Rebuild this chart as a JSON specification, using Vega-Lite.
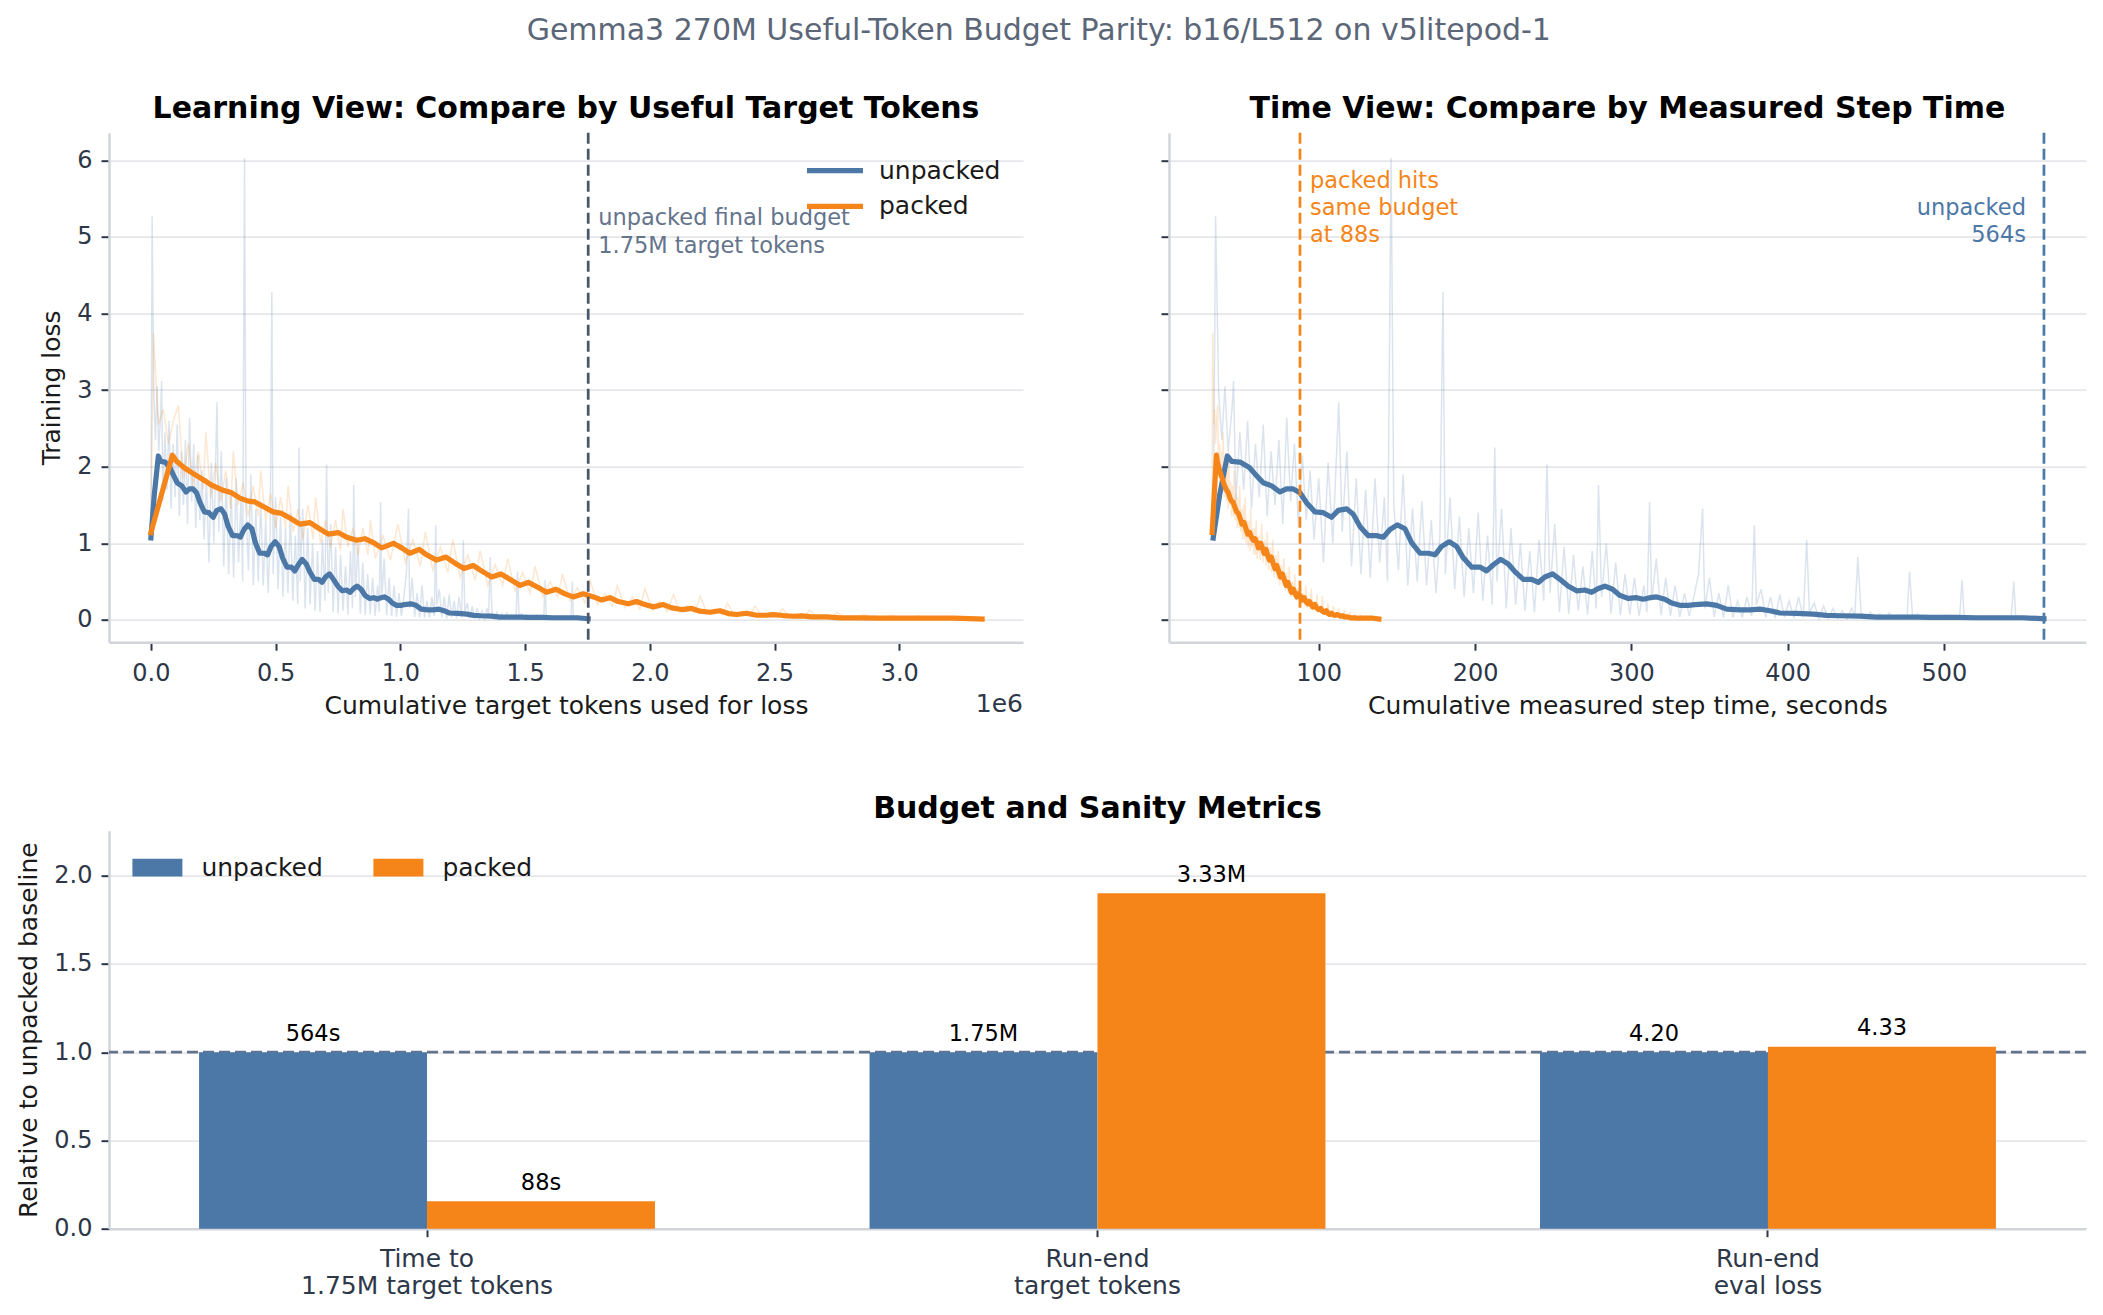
{
  "$schema": "https://vega.github.io/schema/vega-lite/v6.json",
  "autosize": {"type": "pad"},
  "padding": {"left": 16, "top": 15.7, "right": 10, "bottom": 5},
  "background": "white",
  "title": {
    "text": "Gemma3 270M Useful-Token Budget Parity: b16/L512 on v5litepod-1",
    "fontSize": 30, "fontWeight": "normal", "color": "#5b6678",
    "baseline": "alphabetic", "offset": 24.5, "dx": -13, "anchor": "middle"
  },
  "bounds": "full",
  "spacing": 74,
  "datasets": {
    "smooth": [
      {"run": "unpacked", "tok": 0, "sec": 32.5, "loss": 1.07},
      {"run": "unpacked", "tok": 0.0132, "sec": 36.5, "loss": 1.62},
      {"run": "unpacked", "tok": 0.0297, "sec": 41.5, "loss": 2.14},
      {"run": "unpacked", "tok": 0.0389, "sec": 44.3, "loss": 2.07},
      {"run": "unpacked", "tok": 0.0564, "sec": 49.6, "loss": 2.06},
      {"run": "unpacked", "tok": 0.0762, "sec": 55.6, "loss": 1.99},
      {"run": "unpacked", "tok": 0.0917, "sec": 60.3, "loss": 1.88},
      {"run": "unpacked", "tok": 0.1055, "sec": 64.5, "loss": 1.79},
      {"run": "unpacked", "tok": 0.1234, "sec": 69.9, "loss": 1.75},
      {"run": "unpacked", "tok": 0.1408, "sec": 75.2, "loss": 1.67},
      {"run": "unpacked", "tok": 0.1547, "sec": 79.4, "loss": 1.71},
      {"run": "unpacked", "tok": 0.1689, "sec": 83.7, "loss": 1.71},
      {"run": "unpacked", "tok": 0.1830, "sec": 88.0, "loss": 1.66},
      {"run": "unpacked", "tok": 0.1969, "sec": 92.2, "loss": 1.53},
      {"run": "unpacked", "tok": 0.2147, "sec": 97.6, "loss": 1.41},
      {"run": "unpacked", "tok": 0.2322, "sec": 102.9, "loss": 1.40},
      {"run": "unpacked", "tok": 0.2497, "sec": 108.2, "loss": 1.34},
      {"run": "unpacked", "tok": 0.2639, "sec": 112.5, "loss": 1.43},
      {"run": "unpacked", "tok": 0.2813, "sec": 117.8, "loss": 1.45},
      {"run": "unpacked", "tok": 0.2955, "sec": 122.1, "loss": 1.38},
      {"run": "unpacked", "tok": 0.3097, "sec": 126.4, "loss": 1.22},
      {"run": "unpacked", "tok": 0.3272, "sec": 131.7, "loss": 1.10},
      {"run": "unpacked", "tok": 0.3447, "sec": 137.0, "loss": 1.10},
      {"run": "unpacked", "tok": 0.3588, "sec": 141.3, "loss": 1.08},
      {"run": "unpacked", "tok": 0.3730, "sec": 145.6, "loss": 1.18},
      {"run": "unpacked", "tok": 0.3885, "sec": 150.3, "loss": 1.24},
      {"run": "unpacked", "tok": 0.4047, "sec": 155.2, "loss": 1.19},
      {"run": "unpacked", "tok": 0.4185, "sec": 159.4, "loss": 1.01},
      {"run": "unpacked", "tok": 0.4363, "sec": 164.8, "loss": 0.87},
      {"run": "unpacked", "tok": 0.4538, "sec": 170.1, "loss": 0.87},
      {"run": "unpacked", "tok": 0.4680, "sec": 174.4, "loss": 0.85},
      {"run": "unpacked", "tok": 0.4819, "sec": 178.6, "loss": 0.96},
      {"run": "unpacked", "tok": 0.4980, "sec": 183.5, "loss": 1.02},
      {"run": "unpacked", "tok": 0.5135, "sec": 188.2, "loss": 0.96},
      {"run": "unpacked", "tok": 0.5277, "sec": 192.5, "loss": 0.81},
      {"run": "unpacked", "tok": 0.5452, "sec": 197.8, "loss": 0.69},
      {"run": "unpacked", "tok": 0.5627, "sec": 203.1, "loss": 0.69},
      {"run": "unpacked", "tok": 0.5769, "sec": 207.4, "loss": 0.64},
      {"run": "unpacked", "tok": 0.5910, "sec": 211.7, "loss": 0.72},
      {"run": "unpacked", "tok": 0.6065, "sec": 216.4, "loss": 0.79},
      {"run": "unpacked", "tok": 0.6227, "sec": 221.3, "loss": 0.73},
      {"run": "unpacked", "tok": 0.6366, "sec": 225.5, "loss": 0.63},
      {"run": "unpacked", "tok": 0.6544, "sec": 230.9, "loss": 0.53},
      {"run": "unpacked", "tok": 0.6718, "sec": 236.2, "loss": 0.53},
      {"run": "unpacked", "tok": 0.6860, "sec": 240.5, "loss": 0.49},
      {"run": "unpacked", "tok": 0.6999, "sec": 244.7, "loss": 0.56},
      {"run": "unpacked", "tok": 0.7160, "sec": 249.6, "loss": 0.60},
      {"run": "unpacked", "tok": 0.7315, "sec": 254.3, "loss": 0.53},
      {"run": "unpacked", "tok": 0.7494, "sec": 259.7, "loss": 0.44},
      {"run": "unpacked", "tok": 0.7668, "sec": 265.0, "loss": 0.38},
      {"run": "unpacked", "tok": 0.7843, "sec": 270.3, "loss": 0.39},
      {"run": "unpacked", "tok": 0.7985, "sec": 274.6, "loss": 0.36},
      {"run": "unpacked", "tok": 0.8127, "sec": 278.9, "loss": 0.41},
      {"run": "unpacked", "tok": 0.8265, "sec": 283.1, "loss": 0.44},
      {"run": "unpacked", "tok": 0.8427, "sec": 288.0, "loss": 0.40},
      {"run": "unpacked", "tok": 0.8582, "sec": 292.7, "loss": 0.32},
      {"run": "unpacked", "tok": 0.8760, "sec": 298.1, "loss": 0.28},
      {"run": "unpacked", "tok": 0.8935, "sec": 303.4, "loss": 0.29},
      {"run": "unpacked", "tok": 0.9073, "sec": 307.6, "loss": 0.27},
      {"run": "unpacked", "tok": 0.9215, "sec": 311.9, "loss": 0.29},
      {"run": "unpacked", "tok": 0.9357, "sec": 316.2, "loss": 0.30},
      {"run": "unpacked", "tok": 0.9532, "sec": 321.5, "loss": 0.27},
      {"run": "unpacked", "tok": 0.9674, "sec": 325.8, "loss": 0.22},
      {"run": "unpacked", "tok": 0.9848, "sec": 331.1, "loss": 0.19},
      {"run": "unpacked", "tok": 1.0023, "sec": 336.4, "loss": 0.19},
      {"run": "unpacked", "tok": 1.0165, "sec": 340.7, "loss": 0.20},
      {"run": "unpacked", "tok": 1.0412, "sec": 348.2, "loss": 0.21},
      {"run": "unpacked", "tok": 1.0624, "sec": 354.6, "loss": 0.19},
      {"run": "unpacked", "tok": 1.0835, "sec": 361.0, "loss": 0.14},
      {"run": "unpacked", "tok": 1.1115, "sec": 369.5, "loss": 0.13},
      {"run": "unpacked", "tok": 1.1326, "sec": 375.9, "loss": 0.13},
      {"run": "unpacked", "tok": 1.1537, "sec": 382.3, "loss": 0.14},
      {"run": "unpacked", "tok": 1.1748, "sec": 388.7, "loss": 0.12},
      {"run": "unpacked", "tok": 1.1959, "sec": 395.1, "loss": 0.09},
      {"run": "unpacked", "tok": 1.2309, "sec": 405.7, "loss": 0.085},
      {"run": "unpacked", "tok": 1.2662, "sec": 416.4, "loss": 0.076},
      {"run": "unpacked", "tok": 1.2942, "sec": 424.9, "loss": 0.059},
      {"run": "unpacked", "tok": 1.3226, "sec": 433.5, "loss": 0.054},
      {"run": "unpacked", "tok": 1.3648, "sec": 446.3, "loss": 0.05},
      {"run": "unpacked", "tok": 1.3998, "sec": 456.9, "loss": 0.037},
      {"run": "unpacked", "tok": 1.4420, "sec": 469.7, "loss": 0.037},
      {"run": "unpacked", "tok": 1.4842, "sec": 482.5, "loss": 0.037},
      {"run": "unpacked", "tok": 1.5126, "sec": 491.1, "loss": 0.033},
      {"run": "unpacked", "tok": 1.5686, "sec": 508.1, "loss": 0.033},
      {"run": "unpacked", "tok": 1.6109, "sec": 520.9, "loss": 0.028},
      {"run": "unpacked", "tok": 1.6673, "sec": 538.0, "loss": 0.028},
      {"run": "unpacked", "tok": 1.7095, "sec": 550.8, "loss": 0.028},
      {"run": "unpacked", "tok": 1.7530, "sec": 564.0, "loss": 0.015},
      {"run": "packed", "tok": 0, "sec": 31.80, "loss": 1.14},
      {"run": "packed", "tok": 0.086, "sec": 34.55, "loss": 2.15},
      {"run": "packed", "tok": 0.103, "sec": 35.10, "loss": 2.07},
      {"run": "packed", "tok": 0.136, "sec": 36.15, "loss": 1.98},
      {"run": "packed", "tok": 0.170, "sec": 37.24, "loss": 1.91},
      {"run": "packed", "tok": 0.210, "sec": 38.52, "loss": 1.83},
      {"run": "packed", "tok": 0.243, "sec": 39.58, "loss": 1.76},
      {"run": "packed", "tok": 0.283, "sec": 40.86, "loss": 1.70},
      {"run": "packed", "tok": 0.323, "sec": 42.14, "loss": 1.66},
      {"run": "packed", "tok": 0.357, "sec": 43.23, "loss": 1.59},
      {"run": "packed", "tok": 0.390, "sec": 44.29, "loss": 1.55},
      {"run": "packed", "tok": 0.417, "sec": 45.15, "loss": 1.54},
      {"run": "packed", "tok": 0.450, "sec": 46.21, "loss": 1.48},
      {"run": "packed", "tok": 0.490, "sec": 47.49, "loss": 1.41},
      {"run": "packed", "tok": 0.524, "sec": 48.58, "loss": 1.39},
      {"run": "packed", "tok": 0.557, "sec": 49.64, "loss": 1.33},
      {"run": "packed", "tok": 0.597, "sec": 50.92, "loss": 1.25},
      {"run": "packed", "tok": 0.638, "sec": 52.23, "loss": 1.27},
      {"run": "packed", "tok": 0.671, "sec": 53.29, "loss": 1.20},
      {"run": "packed", "tok": 0.711, "sec": 54.57, "loss": 1.12},
      {"run": "packed", "tok": 0.751, "sec": 55.85, "loss": 1.14},
      {"run": "packed", "tok": 0.785, "sec": 56.94, "loss": 1.08},
      {"run": "packed", "tok": 0.825, "sec": 58.22, "loss": 1.04},
      {"run": "packed", "tok": 0.858, "sec": 59.27, "loss": 1.06},
      {"run": "packed", "tok": 0.891, "sec": 60.33, "loss": 1.01},
      {"run": "packed", "tok": 0.925, "sec": 61.42, "loss": 0.94},
      {"run": "packed", "tok": 0.972, "sec": 62.92, "loss": 1.00},
      {"run": "packed", "tok": 1.005, "sec": 63.98, "loss": 0.94},
      {"run": "packed", "tok": 1.038, "sec": 65.04, "loss": 0.87},
      {"run": "packed", "tok": 1.076, "sec": 66.25, "loss": 0.92},
      {"run": "packed", "tok": 1.105, "sec": 67.18, "loss": 0.85},
      {"run": "packed", "tok": 1.145, "sec": 68.46, "loss": 0.78},
      {"run": "packed", "tok": 1.183, "sec": 69.68, "loss": 0.82},
      {"run": "packed", "tok": 1.219, "sec": 70.83, "loss": 0.74},
      {"run": "packed", "tok": 1.255, "sec": 71.98, "loss": 0.67},
      {"run": "packed", "tok": 1.292, "sec": 73.17, "loss": 0.71},
      {"run": "packed", "tok": 1.330, "sec": 74.39, "loss": 0.63},
      {"run": "packed", "tok": 1.366, "sec": 75.54, "loss": 0.56},
      {"run": "packed", "tok": 1.403, "sec": 76.72, "loss": 0.60},
      {"run": "packed", "tok": 1.439, "sec": 77.88, "loss": 0.53},
      {"run": "packed", "tok": 1.480, "sec": 79.19, "loss": 0.45},
      {"run": "packed", "tok": 1.513, "sec": 80.25, "loss": 0.49},
      {"run": "packed", "tok": 1.549, "sec": 81.40, "loss": 0.43},
      {"run": "packed", "tok": 1.586, "sec": 82.58, "loss": 0.36},
      {"run": "packed", "tok": 1.624, "sec": 83.80, "loss": 0.40},
      {"run": "packed", "tok": 1.660, "sec": 84.95, "loss": 0.34},
      {"run": "packed", "tok": 1.693, "sec": 86.01, "loss": 0.30},
      {"run": "packed", "tok": 1.733, "sec": 87.29, "loss": 0.34},
      {"run": "packed", "tok": 1.774, "sec": 88.60, "loss": 0.30},
      {"run": "packed", "tok": 1.807, "sec": 89.66, "loss": 0.26},
      {"run": "packed", "tok": 1.840, "sec": 90.72, "loss": 0.29},
      {"run": "packed", "tok": 1.874, "sec": 91.81, "loss": 0.24},
      {"run": "packed", "tok": 1.914, "sec": 93.09, "loss": 0.21},
      {"run": "packed", "tok": 1.947, "sec": 94.14, "loss": 0.24},
      {"run": "packed", "tok": 1.980, "sec": 95.20, "loss": 0.20},
      {"run": "packed", "tok": 2.014, "sec": 96.29, "loss": 0.17},
      {"run": "packed", "tok": 2.054, "sec": 97.57, "loss": 0.20},
      {"run": "packed", "tok": 2.088, "sec": 98.66, "loss": 0.157},
      {"run": "packed", "tok": 2.128, "sec": 99.94, "loss": 0.135},
      {"run": "packed", "tok": 2.168, "sec": 101.22, "loss": 0.15},
      {"run": "packed", "tok": 2.201, "sec": 102.28, "loss": 0.114},
      {"run": "packed", "tok": 2.241, "sec": 103.56, "loss": 0.10},
      {"run": "packed", "tok": 2.281, "sec": 104.84, "loss": 0.12},
      {"run": "packed", "tok": 2.315, "sec": 105.93, "loss": 0.083},
      {"run": "packed", "tok": 2.348, "sec": 106.98, "loss": 0.07},
      {"run": "packed", "tok": 2.388, "sec": 108.26, "loss": 0.087},
      {"run": "packed", "tok": 2.428, "sec": 109.54, "loss": 0.061},
      {"run": "packed", "tok": 2.468, "sec": 110.82, "loss": 0.061},
      {"run": "packed", "tok": 2.495, "sec": 111.69, "loss": 0.07},
      {"run": "packed", "tok": 2.535, "sec": 112.97, "loss": 0.057},
      {"run": "packed", "tok": 2.575, "sec": 114.25, "loss": 0.048},
      {"run": "packed", "tok": 2.609, "sec": 115.34, "loss": 0.053},
      {"run": "packed", "tok": 2.649, "sec": 116.62, "loss": 0.04},
      {"run": "packed", "tok": 2.709, "sec": 118.54, "loss": 0.04},
      {"run": "packed", "tok": 2.763, "sec": 120.27, "loss": 0.027},
      {"run": "packed", "tok": 2.843, "sec": 122.83, "loss": 0.027},
      {"run": "packed", "tok": 2.923, "sec": 125.39, "loss": 0.022},
      {"run": "packed", "tok": 3.017, "sec": 128.40, "loss": 0.022},
      {"run": "packed", "tok": 3.111, "sec": 131.42, "loss": 0.022},
      {"run": "packed", "tok": 3.217, "sec": 134.81, "loss": 0.022},
      {"run": "packed", "tok": 3.332, "sec": 138.49, "loss": 0.012}
    ],
    "raw": [
      {"run": "unpacked", "tok": 0, "sec": 32.5, "loss": 1.07},
      {"run": "unpacked", "tok": 0.0049, "sec": 34, "loss": 5.27},
      {"run": "unpacked", "tok": 0.0115, "sec": 36, "loss": 2.95},
      {"run": "unpacked", "tok": 0.0181, "sec": 38, "loss": 2.35},
      {"run": "unpacked", "tok": 0.0247, "sec": 40, "loss": 3.05},
      {"run": "unpacked", "tok": 0.0313, "sec": 42, "loss": 2.2},
      {"run": "unpacked", "tok": 0.0396, "sec": 44.5, "loss": 2.75},
      {"run": "unpacked", "tok": 0.0429, "sec": 45.5, "loss": 3.12},
      {"run": "unpacked", "tok": 0.0478, "sec": 47, "loss": 1.55},
      {"run": "unpacked", "tok": 0.0561, "sec": 49.5, "loss": 2.45},
      {"run": "unpacked", "tok": 0.0643, "sec": 52, "loss": 1.7},
      {"run": "unpacked", "tok": 0.0726, "sec": 54.5, "loss": 2.6},
      {"run": "unpacked", "tok": 0.0808, "sec": 57, "loss": 1.45},
      {"run": "unpacked", "tok": 0.0891, "sec": 59.5, "loss": 2.3},
      {"run": "unpacked", "tok": 0.0973, "sec": 62, "loss": 1.6},
      {"run": "unpacked", "tok": 0.1055, "sec": 64.5, "loss": 2.55},
      {"run": "unpacked", "tok": 0.1138, "sec": 67, "loss": 1.35},
      {"run": "unpacked", "tok": 0.1220, "sec": 69.5, "loss": 2.2},
      {"run": "unpacked", "tok": 0.1303, "sec": 72, "loss": 1.5},
      {"run": "unpacked", "tok": 0.1385, "sec": 74.5, "loss": 2.35},
      {"run": "unpacked", "tok": 0.1468, "sec": 77, "loss": 1.25},
      {"run": "unpacked", "tok": 0.1550, "sec": 79.5, "loss": 2.64},
      {"run": "unpacked", "tok": 0.1633, "sec": 82, "loss": 1.55},
      {"run": "unpacked", "tok": 0.1715, "sec": 84.5, "loss": 2.3},
      {"run": "unpacked", "tok": 0.1798, "sec": 87, "loss": 1.2},
      {"run": "unpacked", "tok": 0.1880, "sec": 89.5, "loss": 2.15},
      {"run": "unpacked", "tok": 0.1962, "sec": 92, "loss": 1.3},
      {"run": "unpacked", "tok": 0.2045, "sec": 94.5, "loss": 1.95},
      {"run": "unpacked", "tok": 0.2127, "sec": 97, "loss": 1.05},
      {"run": "unpacked", "tok": 0.2226, "sec": 100, "loss": 1.85},
      {"run": "unpacked", "tok": 0.2325, "sec": 103, "loss": 0.75},
      {"run": "unpacked", "tok": 0.2424, "sec": 106, "loss": 2.05},
      {"run": "unpacked", "tok": 0.2523, "sec": 109, "loss": 1.0},
      {"run": "unpacked", "tok": 0.2648, "sec": 112.8, "loss": 2.84},
      {"run": "unpacked", "tok": 0.2721, "sec": 115, "loss": 1.15},
      {"run": "unpacked", "tok": 0.2820, "sec": 118, "loss": 2.2},
      {"run": "unpacked", "tok": 0.2919, "sec": 121, "loss": 0.7},
      {"run": "unpacked", "tok": 0.3018, "sec": 124, "loss": 1.85},
      {"run": "unpacked", "tok": 0.3117, "sec": 127, "loss": 0.6},
      {"run": "unpacked", "tok": 0.3216, "sec": 130, "loss": 1.7},
      {"run": "unpacked", "tok": 0.3315, "sec": 133, "loss": 0.55},
      {"run": "unpacked", "tok": 0.3414, "sec": 136, "loss": 1.85},
      {"run": "unpacked", "tok": 0.3513, "sec": 139, "loss": 0.75},
      {"run": "unpacked", "tok": 0.3612, "sec": 142, "loss": 1.6},
      {"run": "unpacked", "tok": 0.3677, "sec": 144, "loss": 0.5},
      {"run": "unpacked", "tok": 0.3753, "sec": 146.3, "loss": 6.03},
      {"run": "unpacked", "tok": 0.3809, "sec": 148, "loss": 1.5},
      {"run": "unpacked", "tok": 0.3908, "sec": 151, "loss": 0.65},
      {"run": "unpacked", "tok": 0.4007, "sec": 154, "loss": 1.9},
      {"run": "unpacked", "tok": 0.4106, "sec": 157, "loss": 0.45},
      {"run": "unpacked", "tok": 0.4205, "sec": 160, "loss": 1.45},
      {"run": "unpacked", "tok": 0.4304, "sec": 163, "loss": 0.5},
      {"run": "unpacked", "tok": 0.4403, "sec": 166, "loss": 1.55},
      {"run": "unpacked", "tok": 0.4502, "sec": 169, "loss": 0.45},
      {"run": "unpacked", "tok": 0.4601, "sec": 172, "loss": 1.3},
      {"run": "unpacked", "tok": 0.4700, "sec": 175, "loss": 0.35},
      {"run": "unpacked", "tok": 0.4782, "sec": 177.5, "loss": 1.1},
      {"run": "unpacked", "tok": 0.4848, "sec": 179.5, "loss": 4.28},
      {"run": "unpacked", "tok": 0.4898, "sec": 181, "loss": 0.6},
      {"run": "unpacked", "tok": 0.4997, "sec": 184, "loss": 1.6},
      {"run": "unpacked", "tok": 0.5096, "sec": 187, "loss": 0.4},
      {"run": "unpacked", "tok": 0.5195, "sec": 190, "loss": 1.35},
      {"run": "unpacked", "tok": 0.5294, "sec": 193, "loss": 0.3},
      {"run": "unpacked", "tok": 0.5393, "sec": 196, "loss": 1.2},
      {"run": "unpacked", "tok": 0.5492, "sec": 199, "loss": 0.35},
      {"run": "unpacked", "tok": 0.5590, "sec": 202, "loss": 1.4},
      {"run": "unpacked", "tok": 0.5689, "sec": 205, "loss": 0.25},
      {"run": "unpacked", "tok": 0.5788, "sec": 208, "loss": 1.1},
      {"run": "unpacked", "tok": 0.5887, "sec": 211, "loss": 0.2},
      {"run": "unpacked", "tok": 0.5940, "sec": 212.6, "loss": 2.25},
      {"run": "unpacked", "tok": 0.5986, "sec": 214, "loss": 0.5},
      {"run": "unpacked", "tok": 0.6085, "sec": 217, "loss": 1.45},
      {"run": "unpacked", "tok": 0.6184, "sec": 220, "loss": 0.15},
      {"run": "unpacked", "tok": 0.6283, "sec": 223, "loss": 1.2},
      {"run": "unpacked", "tok": 0.6382, "sec": 226, "loss": 0.2},
      {"run": "unpacked", "tok": 0.6481, "sec": 229, "loss": 1.0},
      {"run": "unpacked", "tok": 0.6580, "sec": 232, "loss": 0.12},
      {"run": "unpacked", "tok": 0.6679, "sec": 235, "loss": 0.9},
      {"run": "unpacked", "tok": 0.6778, "sec": 238, "loss": 0.1},
      {"run": "unpacked", "tok": 0.6877, "sec": 241, "loss": 1.05},
      {"run": "unpacked", "tok": 0.6976, "sec": 244, "loss": 0.25},
      {"run": "unpacked", "tok": 0.7042, "sec": 246, "loss": 2.03},
      {"run": "unpacked", "tok": 0.7108, "sec": 248, "loss": 0.35},
      {"run": "unpacked", "tok": 0.7207, "sec": 251, "loss": 1.25},
      {"run": "unpacked", "tok": 0.7306, "sec": 254, "loss": 0.1},
      {"run": "unpacked", "tok": 0.7404, "sec": 257, "loss": 0.95},
      {"run": "unpacked", "tok": 0.7503, "sec": 260, "loss": 0.08},
      {"run": "unpacked", "tok": 0.7602, "sec": 263, "loss": 0.85},
      {"run": "unpacked", "tok": 0.7701, "sec": 266, "loss": 0.12},
      {"run": "unpacked", "tok": 0.7800, "sec": 269, "loss": 0.7},
      {"run": "unpacked", "tok": 0.7899, "sec": 272, "loss": 0.07},
      {"run": "unpacked", "tok": 0.7998, "sec": 275, "loss": 0.9},
      {"run": "unpacked", "tok": 0.8081, "sec": 277.5, "loss": 0.15},
      {"run": "unpacked", "tok": 0.8130, "sec": 279, "loss": 1.76},
      {"run": "unpacked", "tok": 0.8196, "sec": 281, "loss": 0.3},
      {"run": "unpacked", "tok": 0.8295, "sec": 284, "loss": 1.0},
      {"run": "unpacked", "tok": 0.8394, "sec": 287, "loss": 0.08},
      {"run": "unpacked", "tok": 0.8493, "sec": 290, "loss": 0.75},
      {"run": "unpacked", "tok": 0.8592, "sec": 293, "loss": 0.06},
      {"run": "unpacked", "tok": 0.8691, "sec": 296, "loss": 0.6},
      {"run": "unpacked", "tok": 0.8790, "sec": 299, "loss": 0.07},
      {"run": "unpacked", "tok": 0.8889, "sec": 302, "loss": 0.55},
      {"run": "unpacked", "tok": 0.8988, "sec": 305, "loss": 0.05},
      {"run": "unpacked", "tok": 0.9087, "sec": 308, "loss": 0.45},
      {"run": "unpacked", "tok": 0.9153, "sec": 310, "loss": 0.1},
      {"run": "unpacked", "tok": 0.9209, "sec": 311.7, "loss": 1.54},
      {"run": "unpacked", "tok": 0.9251, "sec": 313, "loss": 0.25},
      {"run": "unpacked", "tok": 0.9350, "sec": 316, "loss": 0.8},
      {"run": "unpacked", "tok": 0.9449, "sec": 319, "loss": 0.06},
      {"run": "unpacked", "tok": 0.9548, "sec": 322, "loss": 0.55},
      {"run": "unpacked", "tok": 0.9647, "sec": 325, "loss": 0.05},
      {"run": "unpacked", "tok": 0.9746, "sec": 328, "loss": 0.45},
      {"run": "unpacked", "tok": 0.9845, "sec": 331, "loss": 0.04},
      {"run": "unpacked", "tok": 0.9944, "sec": 334, "loss": 0.35},
      {"run": "unpacked", "tok": 1.0043, "sec": 337, "loss": 0.05},
      {"run": "unpacked", "tok": 1.0142, "sec": 340, "loss": 0.3},
      {"run": "unpacked", "tok": 1.0241, "sec": 343, "loss": 0.6},
      {"run": "unpacked", "tok": 1.0327, "sec": 345.6, "loss": 1.45},
      {"run": "unpacked", "tok": 1.0373, "sec": 347, "loss": 0.15},
      {"run": "unpacked", "tok": 1.0472, "sec": 350, "loss": 0.55},
      {"run": "unpacked", "tok": 1.0571, "sec": 353, "loss": 0.04},
      {"run": "unpacked", "tok": 1.0670, "sec": 356, "loss": 0.35},
      {"run": "unpacked", "tok": 1.0769, "sec": 359, "loss": 0.03},
      {"run": "unpacked", "tok": 1.0868, "sec": 362, "loss": 0.45},
      {"run": "unpacked", "tok": 1.0967, "sec": 365, "loss": 0.03},
      {"run": "unpacked", "tok": 1.1065, "sec": 368, "loss": 0.25},
      {"run": "unpacked", "tok": 1.1164, "sec": 371, "loss": 0.03},
      {"run": "unpacked", "tok": 1.1263, "sec": 374, "loss": 0.3},
      {"run": "unpacked", "tok": 1.1362, "sec": 377, "loss": 0.05},
      {"run": "unpacked", "tok": 1.1418, "sec": 378.7, "loss": 1.24},
      {"run": "unpacked", "tok": 1.1461, "sec": 380, "loss": 0.2},
      {"run": "unpacked", "tok": 1.1560, "sec": 383, "loss": 0.4},
      {"run": "unpacked", "tok": 1.1659, "sec": 386, "loss": 0.03},
      {"run": "unpacked", "tok": 1.1758, "sec": 389, "loss": 0.3},
      {"run": "unpacked", "tok": 1.1857, "sec": 392, "loss": 0.02},
      {"run": "unpacked", "tok": 1.1956, "sec": 395, "loss": 0.33},
      {"run": "unpacked", "tok": 1.2055, "sec": 398, "loss": 0.03},
      {"run": "unpacked", "tok": 1.2154, "sec": 401, "loss": 0.25},
      {"run": "unpacked", "tok": 1.2253, "sec": 404, "loss": 0.02},
      {"run": "unpacked", "tok": 1.2352, "sec": 407, "loss": 0.3},
      {"run": "unpacked", "tok": 1.2451, "sec": 410, "loss": 0.03},
      {"run": "unpacked", "tok": 1.2523, "sec": 412.2, "loss": 1.04},
      {"run": "unpacked", "tok": 1.2583, "sec": 414, "loss": 0.1},
      {"run": "unpacked", "tok": 1.2682, "sec": 417, "loss": 0.22},
      {"run": "unpacked", "tok": 1.2780, "sec": 420, "loss": 0.02},
      {"run": "unpacked", "tok": 1.2879, "sec": 423, "loss": 0.18},
      {"run": "unpacked", "tok": 1.2978, "sec": 426, "loss": 0.02},
      {"run": "unpacked", "tok": 1.3077, "sec": 429, "loss": 0.15},
      {"run": "unpacked", "tok": 1.3176, "sec": 432, "loss": 0.02},
      {"run": "unpacked", "tok": 1.3275, "sec": 435, "loss": 0.12},
      {"run": "unpacked", "tok": 1.3374, "sec": 438, "loss": 0.015},
      {"run": "unpacked", "tok": 1.3473, "sec": 441, "loss": 0.15},
      {"run": "unpacked", "tok": 1.3539, "sec": 443, "loss": 0.05},
      {"run": "unpacked", "tok": 1.3602, "sec": 444.9, "loss": 0.82},
      {"run": "unpacked", "tok": 1.3671, "sec": 447, "loss": 0.1},
      {"run": "unpacked", "tok": 1.3770, "sec": 450, "loss": 0.02},
      {"run": "unpacked", "tok": 1.3869, "sec": 453, "loss": 0.1},
      {"run": "unpacked", "tok": 1.3968, "sec": 456, "loss": 0.015},
      {"run": "unpacked", "tok": 1.4067, "sec": 459, "loss": 0.08},
      {"run": "unpacked", "tok": 1.4166, "sec": 462, "loss": 0.01},
      {"run": "unpacked", "tok": 1.4265, "sec": 465, "loss": 0.09},
      {"run": "unpacked", "tok": 1.4364, "sec": 468, "loss": 0.012},
      {"run": "unpacked", "tok": 1.4463, "sec": 471, "loss": 0.06},
      {"run": "unpacked", "tok": 1.4562, "sec": 474, "loss": 0.01},
      {"run": "unpacked", "tok": 1.4644, "sec": 476.5, "loss": 0.07},
      {"run": "unpacked", "tok": 1.4694, "sec": 478, "loss": 0.63},
      {"run": "unpacked", "tok": 1.4759, "sec": 480, "loss": 0.02},
      {"run": "unpacked", "tok": 1.4858, "sec": 483, "loss": 0.08},
      {"run": "unpacked", "tok": 1.4957, "sec": 486, "loss": 0.01},
      {"run": "unpacked", "tok": 1.5056, "sec": 489, "loss": 0.06},
      {"run": "unpacked", "tok": 1.5155, "sec": 492, "loss": 0.01},
      {"run": "unpacked", "tok": 1.5254, "sec": 495, "loss": 0.05},
      {"run": "unpacked", "tok": 1.5353, "sec": 498, "loss": 0.008},
      {"run": "unpacked", "tok": 1.5452, "sec": 501, "loss": 0.06},
      {"run": "unpacked", "tok": 1.5551, "sec": 504, "loss": 0.01},
      {"run": "unpacked", "tok": 1.5650, "sec": 507, "loss": 0.05},
      {"run": "unpacked", "tok": 1.5749, "sec": 510, "loss": 0.02},
      {"run": "unpacked", "tok": 1.5802, "sec": 511.6, "loss": 0.52},
      {"run": "unpacked", "tok": 1.5848, "sec": 513, "loss": 0.02},
      {"run": "unpacked", "tok": 1.5947, "sec": 516, "loss": 0.05},
      {"run": "unpacked", "tok": 1.6046, "sec": 519, "loss": 0.008},
      {"run": "unpacked", "tok": 1.6145, "sec": 522, "loss": 0.045},
      {"run": "unpacked", "tok": 1.6244, "sec": 525, "loss": 0.008},
      {"run": "unpacked", "tok": 1.6343, "sec": 528, "loss": 0.04},
      {"run": "unpacked", "tok": 1.6441, "sec": 531, "loss": 0.01},
      {"run": "unpacked", "tok": 1.6540, "sec": 534, "loss": 0.05},
      {"run": "unpacked", "tok": 1.6639, "sec": 537, "loss": 0.008},
      {"run": "unpacked", "tok": 1.6738, "sec": 540, "loss": 0.04},
      {"run": "unpacked", "tok": 1.6837, "sec": 543, "loss": 0.02},
      {"run": "unpacked", "tok": 1.6893, "sec": 544.7, "loss": 0.50},
      {"run": "unpacked", "tok": 1.6936, "sec": 546, "loss": 0.02},
      {"run": "unpacked", "tok": 1.7035, "sec": 549, "loss": 0.04},
      {"run": "unpacked", "tok": 1.7134, "sec": 552, "loss": 0.008},
      {"run": "unpacked", "tok": 1.7233, "sec": 555, "loss": 0.035},
      {"run": "unpacked", "tok": 1.7332, "sec": 558, "loss": 0.008},
      {"run": "unpacked", "tok": 1.7431, "sec": 561, "loss": 0.03},
      {"run": "unpacked", "tok": 1.7530, "sec": 564, "loss": 0.012},
      {"run": "packed", "tok": 0, "sec": 31.80, "loss": 1.14},
      {"run": "packed", "tok": 0.01, "sec": 32.12, "loss": 3.75},
      {"run": "packed", "tok": 0.03, "sec": 32.76, "loss": 2.55},
      {"run": "packed", "tok": 0.05, "sec": 33.40, "loss": 2.75},
      {"run": "packed", "tok": 0.07, "sec": 34.04, "loss": 2.3},
      {"run": "packed", "tok": 0.09, "sec": 34.68, "loss": 2.6},
      {"run": "packed", "tok": 0.11, "sec": 35.32, "loss": 2.8},
      {"run": "packed", "tok": 0.13, "sec": 35.96, "loss": 1.85},
      {"run": "packed", "tok": 0.15, "sec": 36.60, "loss": 2.3},
      {"run": "packed", "tok": 0.17, "sec": 37.24, "loss": 1.75},
      {"run": "packed", "tok": 0.19, "sec": 37.88, "loss": 2.2},
      {"run": "packed", "tok": 0.21, "sec": 38.52, "loss": 1.7},
      {"run": "packed", "tok": 0.22, "sec": 38.84, "loss": 2.45},
      {"run": "packed", "tok": 0.24, "sec": 39.48, "loss": 1.6},
      {"run": "packed", "tok": 0.26, "sec": 40.13, "loss": 2.05},
      {"run": "packed", "tok": 0.28, "sec": 40.77, "loss": 1.55},
      {"run": "packed", "tok": 0.30, "sec": 41.41, "loss": 1.95},
      {"run": "packed", "tok": 0.32, "sec": 42.05, "loss": 1.45},
      {"run": "packed", "tok": 0.33, "sec": 42.37, "loss": 2.2},
      {"run": "packed", "tok": 0.35, "sec": 43.01, "loss": 1.5},
      {"run": "packed", "tok": 0.37, "sec": 43.65, "loss": 1.8},
      {"run": "packed", "tok": 0.39, "sec": 44.29, "loss": 1.35},
      {"run": "packed", "tok": 0.41, "sec": 44.93, "loss": 1.75},
      {"run": "packed", "tok": 0.43, "sec": 45.57, "loss": 1.35},
      {"run": "packed", "tok": 0.44, "sec": 45.89, "loss": 1.95},
      {"run": "packed", "tok": 0.46, "sec": 46.53, "loss": 1.3},
      {"run": "packed", "tok": 0.48, "sec": 47.17, "loss": 1.65},
      {"run": "packed", "tok": 0.50, "sec": 47.81, "loss": 1.2},
      {"run": "packed", "tok": 0.52, "sec": 48.45, "loss": 1.6},
      {"run": "packed", "tok": 0.54, "sec": 49.09, "loss": 1.2},
      {"run": "packed", "tok": 0.55, "sec": 49.41, "loss": 1.75},
      {"run": "packed", "tok": 0.57, "sec": 50.05, "loss": 1.15},
      {"run": "packed", "tok": 0.59, "sec": 50.69, "loss": 1.45},
      {"run": "packed", "tok": 0.61, "sec": 51.33, "loss": 1.05},
      {"run": "packed", "tok": 0.63, "sec": 51.97, "loss": 1.5},
      {"run": "packed", "tok": 0.65, "sec": 52.61, "loss": 1.05},
      {"run": "packed", "tok": 0.66, "sec": 52.93, "loss": 1.6},
      {"run": "packed", "tok": 0.68, "sec": 53.57, "loss": 1.0},
      {"run": "packed", "tok": 0.70, "sec": 54.21, "loss": 1.3},
      {"run": "packed", "tok": 0.72, "sec": 54.85, "loss": 0.95},
      {"run": "packed", "tok": 0.74, "sec": 55.49, "loss": 1.3},
      {"run": "packed", "tok": 0.76, "sec": 56.14, "loss": 0.9},
      {"run": "packed", "tok": 0.77, "sec": 56.46, "loss": 1.45},
      {"run": "packed", "tok": 0.79, "sec": 57.10, "loss": 0.95},
      {"run": "packed", "tok": 0.81, "sec": 57.74, "loss": 1.2},
      {"run": "packed", "tok": 0.83, "sec": 58.38, "loss": 0.85},
      {"run": "packed", "tok": 0.85, "sec": 59.02, "loss": 1.2},
      {"run": "packed", "tok": 0.87, "sec": 59.66, "loss": 0.85},
      {"run": "packed", "tok": 0.88, "sec": 59.98, "loss": 1.3},
      {"run": "packed", "tok": 0.90, "sec": 60.62, "loss": 0.8},
      {"run": "packed", "tok": 0.93, "sec": 61.58, "loss": 1.1},
      {"run": "packed", "tok": 0.96, "sec": 62.54, "loss": 0.78},
      {"run": "packed", "tok": 0.99, "sec": 63.50, "loss": 1.25},
      {"run": "packed", "tok": 1.02, "sec": 64.46, "loss": 0.75},
      {"run": "packed", "tok": 1.05, "sec": 65.42, "loss": 1.05},
      {"run": "packed", "tok": 1.08, "sec": 66.38, "loss": 0.7},
      {"run": "packed", "tok": 1.10, "sec": 67.02, "loss": 1.15},
      {"run": "packed", "tok": 1.13, "sec": 67.98, "loss": 0.65},
      {"run": "packed", "tok": 1.16, "sec": 68.94, "loss": 0.95},
      {"run": "packed", "tok": 1.19, "sec": 69.90, "loss": 0.62},
      {"run": "packed", "tok": 1.21, "sec": 70.54, "loss": 1.05},
      {"run": "packed", "tok": 1.24, "sec": 71.50, "loss": 0.55},
      {"run": "packed", "tok": 1.27, "sec": 72.47, "loss": 0.85},
      {"run": "packed", "tok": 1.30, "sec": 73.43, "loss": 0.52},
      {"run": "packed", "tok": 1.32, "sec": 74.07, "loss": 0.9},
      {"run": "packed", "tok": 1.35, "sec": 75.03, "loss": 0.45},
      {"run": "packed", "tok": 1.38, "sec": 75.99, "loss": 0.72},
      {"run": "packed", "tok": 1.41, "sec": 76.95, "loss": 0.45},
      {"run": "packed", "tok": 1.43, "sec": 77.59, "loss": 0.8},
      {"run": "packed", "tok": 1.46, "sec": 78.55, "loss": 0.38},
      {"run": "packed", "tok": 1.49, "sec": 79.51, "loss": 0.62},
      {"run": "packed", "tok": 1.52, "sec": 80.47, "loss": 0.35},
      {"run": "packed", "tok": 1.54, "sec": 81.11, "loss": 0.7},
      {"run": "packed", "tok": 1.57, "sec": 82.07, "loss": 0.3},
      {"run": "packed", "tok": 1.60, "sec": 83.03, "loss": 0.5},
      {"run": "packed", "tok": 1.63, "sec": 83.99, "loss": 0.3},
      {"run": "packed", "tok": 1.65, "sec": 84.63, "loss": 0.6},
      {"run": "packed", "tok": 1.68, "sec": 85.59, "loss": 0.25},
      {"run": "packed", "tok": 1.71, "sec": 86.55, "loss": 0.42},
      {"run": "packed", "tok": 1.74, "sec": 87.51, "loss": 0.22},
      {"run": "packed", "tok": 1.76, "sec": 88.16, "loss": 0.52},
      {"run": "packed", "tok": 1.79, "sec": 89.12, "loss": 0.2},
      {"run": "packed", "tok": 1.82, "sec": 90.08, "loss": 0.35},
      {"run": "packed", "tok": 1.85, "sec": 91.04, "loss": 0.18},
      {"run": "packed", "tok": 1.87, "sec": 91.68, "loss": 0.45},
      {"run": "packed", "tok": 1.90, "sec": 92.64, "loss": 0.16},
      {"run": "packed", "tok": 1.93, "sec": 93.60, "loss": 0.3},
      {"run": "packed", "tok": 1.96, "sec": 94.56, "loss": 0.14},
      {"run": "packed", "tok": 1.98, "sec": 95.20, "loss": 0.41},
      {"run": "packed", "tok": 2.01, "sec": 96.16, "loss": 0.13},
      {"run": "packed", "tok": 2.04, "sec": 97.12, "loss": 0.24},
      {"run": "packed", "tok": 2.07, "sec": 98.08, "loss": 0.11},
      {"run": "packed", "tok": 2.095, "sec": 98.88, "loss": 0.33},
      {"run": "packed", "tok": 2.12, "sec": 99.68, "loss": 0.1},
      {"run": "packed", "tok": 2.15, "sec": 100.64, "loss": 0.18},
      {"run": "packed", "tok": 2.18, "sec": 101.60, "loss": 0.09},
      {"run": "packed", "tok": 2.202, "sec": 102.31, "loss": 0.31},
      {"run": "packed", "tok": 2.23, "sec": 103.20, "loss": 0.08},
      {"run": "packed", "tok": 2.26, "sec": 104.17, "loss": 0.14},
      {"run": "packed", "tok": 2.29, "sec": 105.13, "loss": 0.07},
      {"run": "packed", "tok": 2.311, "sec": 105.80, "loss": 0.22},
      {"run": "packed", "tok": 2.34, "sec": 106.73, "loss": 0.06},
      {"run": "packed", "tok": 2.37, "sec": 107.69, "loss": 0.11},
      {"run": "packed", "tok": 2.40, "sec": 108.65, "loss": 0.05},
      {"run": "packed", "tok": 2.422, "sec": 109.35, "loss": 0.18},
      {"run": "packed", "tok": 2.45, "sec": 110.25, "loss": 0.045},
      {"run": "packed", "tok": 2.48, "sec": 111.21, "loss": 0.09},
      {"run": "packed", "tok": 2.51, "sec": 112.17, "loss": 0.04},
      {"run": "packed", "tok": 2.532, "sec": 112.87, "loss": 0.15},
      {"run": "packed", "tok": 2.56, "sec": 113.77, "loss": 0.035},
      {"run": "packed", "tok": 2.59, "sec": 114.73, "loss": 0.07},
      {"run": "packed", "tok": 2.62, "sec": 115.69, "loss": 0.03},
      {"run": "packed", "tok": 2.64, "sec": 116.33, "loss": 0.13},
      {"run": "packed", "tok": 2.67, "sec": 117.29, "loss": 0.03},
      {"run": "packed", "tok": 2.70, "sec": 118.25, "loss": 0.06},
      {"run": "packed", "tok": 2.73, "sec": 119.21, "loss": 0.025},
      {"run": "packed", "tok": 2.75, "sec": 119.86, "loss": 0.10},
      {"run": "packed", "tok": 2.79, "sec": 121.14, "loss": 0.02},
      {"run": "packed", "tok": 2.83, "sec": 122.42, "loss": 0.045},
      {"run": "packed", "tok": 2.86, "sec": 123.38, "loss": 0.07},
      {"run": "packed", "tok": 2.90, "sec": 124.66, "loss": 0.018},
      {"run": "packed", "tok": 2.94, "sec": 125.94, "loss": 0.04},
      {"run": "packed", "tok": 2.97, "sec": 126.90, "loss": 0.06},
      {"run": "packed", "tok": 3.01, "sec": 128.18, "loss": 0.015},
      {"run": "packed", "tok": 3.05, "sec": 129.46, "loss": 0.035},
      {"run": "packed", "tok": 3.08, "sec": 130.42, "loss": 0.05},
      {"run": "packed", "tok": 3.12, "sec": 131.70, "loss": 0.013},
      {"run": "packed", "tok": 3.16, "sec": 132.98, "loss": 0.03},
      {"run": "packed", "tok": 3.19, "sec": 133.94, "loss": 0.045},
      {"run": "packed", "tok": 3.23, "sec": 135.22, "loss": 0.012},
      {"run": "packed", "tok": 3.27, "sec": 136.50, "loss": 0.025},
      {"run": "packed", "tok": 3.30, "sec": 137.47, "loss": 0.035},
      {"run": "packed", "tok": 3.332, "sec": 138.49, "loss": 0.012}
    ],
    "budget": [
      {"tok": 1.753, "note": "unpacked final budget\n1.75M target tokens"}
    ],
    "timeMarks": [
      {"run": "packed", "sec": 88, "note": "packed hits\nsame budget\nat 88s"},
      {"run": "unpacked", "sec": 564, "note": "unpacked\n564s"}
    ],
    "metrics": [
      {"metric": "Time to\n1.75M target tokens", "run": "unpacked", "value": 564, "label": "564s"},
      {"metric": "Time to\n1.75M target tokens", "run": "packed", "value": 88, "label": "88s"},
      {"metric": "Run-end\ntarget tokens", "run": "unpacked", "value": 1.753, "label": "1.75M"},
      {"metric": "Run-end\ntarget tokens", "run": "packed", "value": 3.332, "label": "3.33M"},
      {"metric": "Run-end\neval loss", "run": "unpacked", "value": 4.20, "label": "4.20"},
      {"metric": "Run-end\neval loss", "run": "packed", "value": 4.33, "label": "4.33"}
    ],
    "parity": [
      {"relative": 1.0}
    ]
  },
  "vconcat": [
    {
      "bounds": "flush",
      "spacing": 146,
      "resolve": {"scale": {"color": "independent"}, "legend": {"color": "independent"}},
      "hconcat": [
        {
          "width": 914,
          "height": 509.5,
          "title": {"text": "Learning View: Compare by Useful Target Tokens"},
          "layer": [
            {
              "data": {"name": "raw"},
              "mark": {"type": "line", "strokeWidth": 1.5, "opacity": 0.2},
              "encoding": {
                "x": {"field": "tok", "type": "quantitative",
                      "scale": {"domain": [-0.168, 3.496], "nice": false, "zero": false},
                      "axis": {"values": [0, 0.5, 1, 1.5, 2, 2.5, 3], "format": ".1f", "labelFlush": false,
                               "title": "Cumulative target tokens used for loss"}},
                "y": {"field": "loss", "type": "quantitative",
                      "scale": {"domain": [-0.291, 6.36], "nice": false, "zero": false},
                      "axis": {"values": [0, 1, 2, 3, 4, 5, 6], "format": "d", "title": "Training loss", "titleX": -49.7, "grid": true}},
                "color": {"field": "run", "type": "nominal",
                          "scale": {"domain": ["unpacked", "packed"], "range": ["#4c78a8", "#f58518"]},
                          "legend": {"title": null, "orient": "none", "legendX": 709, "legendY": 21,
                                     "direction": "vertical", "symbolType": "M-2,0L2,0", "symbolSize": 784,
                                     "symbolStrokeWidth": 5.2, "symbolOpacity": 1, "labelOffset": 27, "rowPadding": 5.7,
                                     "labelFontSize": 25}}
              }
            },
            {
              "data": {"name": "smooth"},
              "mark": {"type": "line", "strokeWidth": 5.2, "strokeCap": "square", "strokeJoin": "round"},
              "encoding": {
                "x": {"field": "tok", "type": "quantitative", "scale": {"domain": [-0.168, 3.496], "nice": false, "zero": false}},
                "y": {"field": "loss", "type": "quantitative", "scale": {"domain": [-0.291, 6.36], "nice": false, "zero": false}},
                "color": {"field": "run", "type": "nominal",
                          "scale": {"domain": ["unpacked", "packed"], "range": ["#4c78a8", "#f58518"]},
                          "legend": {"title": null, "orient": "none", "legendX": 709, "legendY": 21,
                                     "direction": "vertical", "symbolType": "M-2,0L2,0", "symbolSize": 784,
                                     "symbolStrokeWidth": 5.2, "symbolOpacity": 1, "labelOffset": 27, "rowPadding": 5.7,
                                     "labelFontSize": 25}}
              }
            },
            {
              "data": {"name": "budget"},
              "mark": {"type": "rule", "color": "#4a5568", "strokeWidth": 2.7, "strokeDash": [11, 5]},
              "encoding": {
                "x": {"field": "tok", "type": "quantitative", "scale": {"domain": [-0.168, 3.496], "nice": false, "zero": false}}
              }
            },
            {
              "data": {"name": "budget"},
              "mark": {"type": "text", "align": "left", "baseline": "alphabetic", "dx": 10, "fontSize": 22.5,
                       "color": "#64748b", "lineBreak": "\n", "lineHeight": 27.4},
              "encoding": {
                "x": {"field": "tok", "type": "quantitative", "scale": {"domain": [-0.168, 3.496], "nice": false, "zero": false}},
                "y": {"datum": 5.153, "type": "quantitative", "scale": {"domain": [-0.291, 6.36], "nice": false, "zero": false}},
                "text": {"field": "note"}
              }
            },
            {
              "data": {"name": "budget"},
              "mark": {"type": "text", "align": "right", "baseline": "alphabetic", "dy": 70, "fontSize": 25, "color": "#2d3748"},
              "encoding": {
                "x": {"datum": 3.496, "type": "quantitative", "scale": {"domain": [-0.168, 3.496], "nice": false, "zero": false}},
                "y": {"datum": -0.291, "type": "quantitative", "scale": {"domain": [-0.291, 6.36], "nice": false, "zero": false}},
                "text": {"value": "1e6"}
              }
            }
          ]
        },
        {
          "width": 917,
          "height": 509.5,
          "title": {"text": "Time View: Compare by Measured Step Time"},
          "layer": [
            {
              "data": {"name": "raw"},
              "mark": {"type": "line", "strokeWidth": 1.5, "opacity": 0.2},
              "encoding": {
                "x": {"field": "sec", "type": "quantitative",
                      "scale": {"domain": [4.2, 590.9], "nice": false, "zero": false},
                      "axis": {"values": [100, 200, 300, 400, 500], "format": "d", "labelFlush": false,
                               "title": "Cumulative measured step time, seconds"}},
                "y": {"field": "loss", "type": "quantitative",
                      "scale": {"domain": [-0.291, 6.36], "nice": false, "zero": false},
                      "axis": {"values": [0, 1, 2, 3, 4, 5, 6], "labels": false, "title": null, "grid": true}},
                "color": {"field": "run", "type": "nominal",
                          "scale": {"domain": ["unpacked", "packed"], "range": ["#4c78a8", "#f58518"]},
                          "legend": null}
              }
            },
            {
              "data": {"name": "smooth"},
              "mark": {"type": "line", "strokeWidth": 5.2, "strokeCap": "square", "strokeJoin": "round"},
              "encoding": {
                "x": {"field": "sec", "type": "quantitative", "scale": {"domain": [4.2, 590.9], "nice": false, "zero": false}},
                "y": {"field": "loss", "type": "quantitative", "scale": {"domain": [-0.291, 6.36], "nice": false, "zero": false}},
                "color": {"field": "run", "type": "nominal",
                          "scale": {"domain": ["unpacked", "packed"], "range": ["#4c78a8", "#f58518"]},
                          "legend": null}
              }
            },
            {
              "data": {"name": "timeMarks"},
              "mark": {"type": "rule", "strokeWidth": 2.7, "strokeDash": [11, 5]},
              "encoding": {
                "x": {"field": "sec", "type": "quantitative", "scale": {"domain": [4.2, 590.9], "nice": false, "zero": false}},
                "color": {"field": "run", "type": "nominal",
                          "scale": {"domain": ["unpacked", "packed"], "range": ["#4c78a8", "#f58518"]},
                          "legend": null}
              }
            },
            {
              "data": {"name": "timeMarks"},
              "transform": [{"filter": "datum.run === 'packed'"}],
              "mark": {"type": "text", "align": "left", "baseline": "alphabetic", "dx": 10, "fontSize": 22.5,
                       "lineBreak": "\n", "lineHeight": 27.4},
              "encoding": {
                "x": {"field": "sec", "type": "quantitative", "scale": {"domain": [4.2, 590.9], "nice": false, "zero": false}},
                "y": {"datum": 5.642, "type": "quantitative", "scale": {"domain": [-0.291, 6.36], "nice": false, "zero": false}},
                "text": {"field": "note"},
                "color": {"field": "run", "type": "nominal",
                          "scale": {"domain": ["unpacked", "packed"], "range": ["#4c78a8", "#f58518"]},
                          "legend": null}
              }
            },
            {
              "data": {"name": "timeMarks"},
              "transform": [{"filter": "datum.run === 'unpacked'"}],
              "mark": {"type": "text", "align": "right", "baseline": "alphabetic", "dx": -18, "fontSize": 22.5,
                       "lineBreak": "\n", "lineHeight": 27.4},
              "encoding": {
                "x": {"field": "sec", "type": "quantitative", "scale": {"domain": [4.2, 590.9], "nice": false, "zero": false}},
                "y": {"datum": 5.289, "type": "quantitative", "scale": {"domain": [-0.291, 6.36], "nice": false, "zero": false}},
                "text": {"field": "note"},
                "color": {"field": "run", "type": "nominal",
                          "scale": {"domain": ["unpacked", "packed"], "range": ["#4c78a8", "#f58518"]},
                          "legend": null}
              }
            }
          ]
        }
      ]
    },
    {
      "width": 1977,
      "height": 398,
      "title": {"text": "Budget and Sanity Metrics"},
      "layer": [
        {
          "data": {"name": "parity"},
          "mark": {"type": "rule", "color": "#64748b", "strokeWidth": 2.7, "strokeDash": [11, 5]},
          "encoding": {
            "y": {"field": "relative", "type": "quantitative", "scale": {"domain": [0, 2.255], "nice": false}}
          }
        },
        {
          "data": {"name": "metrics"},
          "transform": [
            {"calculate": "datum.run === 'unpacked' ? datum.value : null", "as": "base_value"},
            {"joinaggregate": [{"op": "max", "field": "base_value", "as": "baseline"}], "groupby": ["metric"]},
            {"calculate": "datum.value / datum.baseline", "as": "relative"}
          ],
          "layer": [
            {
              "mark": {"type": "bar"},
              "encoding": {
                "x": {"field": "metric", "type": "nominal", "sort": null,
                      "scale": {"paddingInner": 0.32, "paddingOuter": 0.1343},
                      "axis": {"title": null, "labelExpr": "split(datum.label, '\\n')", "labelAngle": 0, "labelLimit": 0,
                               "labelFontSize": 25, "labelLineHeight": 27.2, "labelPadding": 29.5, "grid": false}},
                "xOffset": {"field": "run", "type": "nominal", "sort": ["unpacked", "packed"],
                            "scale": {"paddingInner": 0, "paddingOuter": 0}},
                "y": {"field": "relative", "type": "quantitative",
                      "scale": {"domain": [0, 2.255], "nice": false},
                      "axis": {"values": [0, 0.5, 1, 1.5, 2], "format": ".1f", "grid": true,
                               "title": "Relative to unpacked baseline", "titleX": -72.8}},
                "color": {"field": "run", "type": "nominal",
                          "scale": {"domain": ["unpacked", "packed"], "range": ["#4c78a8", "#f58518"]},
                          "legend": {"title": null, "orient": "none", "legendX": 23.4, "legendY": 12,
                                     "direction": "horizontal",
                                     "symbolType": "M-1,-0.354L1,-0.354L1,0.354L-1,0.354Z", "symbolSize": 2500,
                                     "symbolStrokeWidth": 0, "labelOffset": 19, "columnPadding": 50,
                                     "labelFontSize": 25}}
              }
            },
            {
              "mark": {"type": "text", "baseline": "alphabetic", "dy": -11.5, "fontSize": 22.5, "color": "#000000"},
              "encoding": {
                "x": {"field": "metric", "type": "nominal", "sort": null},
                "xOffset": {"field": "run", "type": "nominal", "sort": ["unpacked", "packed"]},
                "y": {"field": "relative", "type": "quantitative", "scale": {"domain": [0, 2.255], "nice": false}},
                "text": {"field": "label"}
              }
            }
          ]
        }
      ]
    }
  ],
  "resolve": {"scale": {"color": "independent"}, "legend": {"color": "independent"}},
  "config": {
    "font": "DejaVu Sans",
    "view": {"stroke": null},
    "axis": {
      "labelFont": "DejaVu Sans", "labelFontSize": 24, "labelColor": "#2d3748",
      "titleFont": "DejaVu Sans", "titleFontSize": 25, "titleFontWeight": "normal", "titleColor": "#1a1a1a",
      "domainColor": "#d1d5db", "domainWidth": 2.5,
      "tickColor": "#2d3748", "tickWidth": 2, "tickSize": 8,
      "gridColor": "#e5e7eb", "gridWidth": 1.8,
      "labelPadding": 9
    },
    "axisX": {"labelBaseline": "alphabetic", "labelPadding": 30, "titleBaseline": "alphabetic", "titleY": 71.7, "grid": false},
    "axisY": {"titleBaseline": "alphabetic"},
    "title": {"font": "DejaVu Sans", "fontSize": 30, "fontWeight": "bold", "color": "#000000",
              "baseline": "alphabetic", "offset": 7, "anchor": "middle"},
    "legend": {"labelFont": "DejaVu Sans", "labelFontSize": 25, "labelColor": "#1a1a1a", "padding": 0}
  }
}
